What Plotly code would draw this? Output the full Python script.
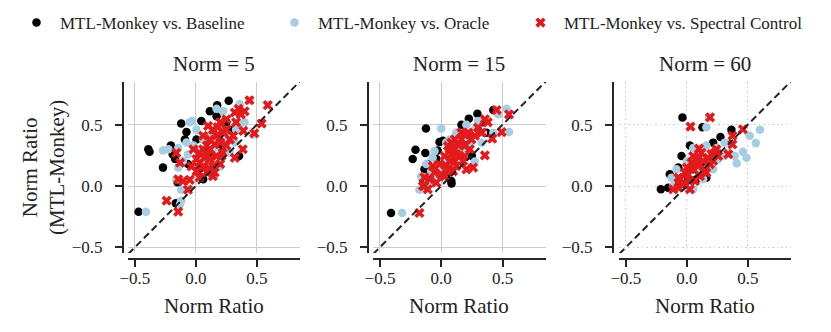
import plotly.graph_objects as go

# ---------------- data ----------------
panel_titles = ["Norm = 5", "Norm = 15", "Norm = 60"]
series_names = ["MTL-Monkey vs. Baseline", "MTL-Monkey vs. Oracle", "MTL-Monkey vs. Spectral Control"]
tick_vals = [-0.5, 0.0, 0.5]
tick_text = ["\u22120.5", "0.0", "0.5"]
x_label = "Norm Ratio"
y_label = "Norm Ratio<br>(MTL-Monkey)"

# Panel 1 (Norm = 5)
p1_base_x = [-0.47, -0.39, -0.38, -0.27, -0.205, -0.12, -0.077, -0.17, -0.19, -0.165, -0.15, -0.065, 0.045, 0.115, 0.175, 0.27, 0.17, 0.28, 0.25, 0.355, 0.03, 0.2, 0.09, 0.32, 0.005, 0.14, 0.22, -0.09, 0.06]
p1_base_y = [-0.21, 0.30, 0.28, 0.15, 0.33, 0.51, 0.44, 0.22, 0.26, -0.14, 0.03, 0.18, 0.53, 0.61, 0.66, 0.695, 0.57, 0.46, 0.52, 0.245, 0.14, 0.41, 0.30, 0.45, 0.38, 0.245, 0.33, 0.38, 0.055]
p1_orac_x = [-0.41, -0.27, -0.225, -0.145, -0.05, -0.03, -0.077, -0.065, -0.145, -0.105, -0.16, -0.12, -0.12, -0.13, 0.17, 0.225, 0.36, 0.44, 0.36, 0.32, 0.2, 0.25, 0.06, 0.005, 0.03, 0.09, 0.14, 0.115, -0.02, 0.28, 0.40, 0.2, 0.33, 0.47]
p1_orac_y = [-0.21, 0.29, 0.30, 0.31, 0.52, 0.53, 0.355, 0.26, 0.15, 0.205, 0.055, -0.03, -0.12, -0.15, 0.63, 0.61, 0.67, 0.70, 0.505, 0.355, 0.46, 0.38, 0.38, 0.46, 0.245, 0.16, 0.30, 0.41, 0.33, 0.27, 0.52, 0.16, 0.46, 0.42]
p1_spec_x = [0.44, 0.59, 0.54, 0.48, 0.39, 0.385, 0.32, -0.24, -0.145, -0.145, -0.105, -0.05, -0.065, -0.13, -0.16, 0.005, 0.03, 0.09, 0.14, 0.155, 0.06, 0.115, 0.17, 0.2, 0.25, 0.32, 0.37, 0.35, 0.2, 0.22, 0.25, 0.28, 0.09, 0.03, 0.06, 0.115, 0.005, -0.02, 0.14, 0.18, 0.10, 0.225, 0.305, 0.115, 0.17, 0.2, 0.09, 0.14, 0.03, 0.115, 0.33, 0.40, 0.25, 0.06, 0.155, 0.21, 0.075, -0.035]
p1_spec_y = [0.70, 0.66, 0.51, 0.43, 0.45, 0.30, 0.23, -0.12, -0.21, 0.055, 0.04, 0.05, -0.03, 0.19, 0.27, 0.12, 0.19, 0.245, 0.08, 0.11, 0.30, 0.38, 0.41, 0.52, 0.545, 0.60, 0.585, 0.63, 0.355, 0.27, 0.33, 0.38, 0.33, 0.27, 0.16, 0.22, 0.22, 0.30, 0.46, 0.48, 0.49, 0.44, 0.41, 0.30, 0.245, 0.18, 0.11, 0.16, 0.07, 0.14, 0.52, 0.61, 0.46, 0.41, 0.34, 0.245, 0.23, 0.16]

# Panel 2 (Norm = 15)
p2_base_x = [-0.41, -0.233, -0.21, -0.13, -0.125, -0.014, -0.03, 0.165, 0.225, 0.295, 0.425, 0.34, 0.37, -0.137, -0.11, 0.082, 0.04, 0.19, 0.11, 0.014, -0.04, 0.25, -0.08, -0.15, 0.30, 0.084]
p2_base_y = [-0.22, 0.22, 0.295, 0.27, 0.47, 0.36, 0.29, 0.50, 0.55, 0.59, 0.62, 0.52, 0.435, 0.136, 0.18, 0.04, 0.07, 0.38, 0.31, 0.37, 0.22, 0.245, 0.055, 0.055, 0.46, 0.02]
p2_orac_x = [-0.32, 0.0, 0.068, 0.11, 0.04, -0.055, -0.07, -0.123, -0.164, -0.178, -0.11, -0.04, 0.022, 0.082, 0.137, 0.205, 0.30, 0.274, 0.34, 0.425, 0.534, 0.553, 0.466, 0.274, 0.233, 0.164, 0.19, 0.096, 0.027, -0.082, 0.014, 0.33, 0.123]
p2_orac_y = [-0.22, 0.47, 0.38, 0.38, 0.355, 0.286, 0.23, 0.18, 0.08, -0.03, 0.03, 0.07, 0.06, 0.136, 0.245, 0.50, 0.53, 0.46, 0.435, 0.435, 0.63, 0.44, 0.585, 0.20, 0.327, 0.30, 0.395, 0.245, 0.22, 0.12, 0.15, 0.354, 0.436]
p2_spec_x = [-0.178, 0.452, 0.553, 0.493, 0.416, 0.356, 0.38, 0.30, 0.26, 0.19, 0.233, -0.137, -0.15, -0.11, -0.07, -0.04, 0.0, 0.04, 0.068, 0.082, 0.11, 0.137, 0.164, 0.19, 0.22, 0.247, 0.274, 0.15, 0.11, 0.055, 0.096, 0.027, 0.068, 0.123, 0.178, 0.123, -0.014, -0.055, -0.096, -0.137, 0.027, 0.19, 0.33, 0.164, 0.082, 0.055, 0.356, 0.205, 0.11]
p2_spec_y = [-0.22, 0.62, 0.585, 0.44, 0.387, 0.25, 0.52, 0.477, 0.15, 0.245, 0.30, 0.07, 0.0, -0.027, 0.163, 0.027, 0.095, 0.163, 0.204, 0.26, 0.30, 0.34, 0.38, 0.42, 0.436, 0.38, 0.41, 0.245, 0.204, 0.136, 0.12, 0.245, 0.30, 0.26, 0.204, 0.163, 0.177, 0.11, 0.055, 0.0, 0.08, 0.327, 0.436, 0.436, 0.354, 0.327, 0.545, 0.136, 0.38]

# Panel 3 (Norm = 60)
p3_base_x = [-0.213, -0.036, 0.128, 0.366, 0.276, -0.044, 0.025, -0.14, -0.07, 0.16, 0.243, 0.216, -0.153, -0.098, 0.052, 0.12, 0.08, 0.0]
p3_base_y = [-0.027, 0.56, 0.48, 0.46, 0.40, 0.245, 0.33, 0.095, 0.15, 0.068, 0.286, 0.354, -0.014, 0.0, 0.136, 0.19, 0.055, 0.08]
p3_orac_x = [0.183, 0.16, 0.60, 0.516, 0.566, 0.46, 0.49, 0.41, 0.393, 0.16, 0.052, 0.0, -0.085, -0.126, -0.112, 0.0, 0.134, 0.216, 0.257, 0.31, 0.34, 0.08, 0.19, 0.107, -0.057, 0.243, 0.052, 0.31]
p3_orac_y = [0.56, 0.48, 0.46, 0.41, 0.35, 0.28, 0.23, 0.185, 0.245, 0.33, 0.31, 0.204, 0.136, 0.068, 0.0, -0.014, 0.055, 0.136, 0.218, 0.245, 0.27, 0.136, 0.163, 0.245, 0.055, 0.31, -0.027, 0.354]
p3_spec_x = [0.19, 0.03, 0.10, 0.46, 0.374, 0.374, 0.34, 0.243, -0.112, -0.07, -0.03, -0.057, 0.01, 0.052, 0.093, 0.134, 0.175, 0.202, 0.23, 0.257, 0.107, 0.066, 0.025, 0.038, 0.08, 0.0, 0.052, 0.148, 0.19, -0.016, -0.044, 0.12, 0.093, 0.216, 0.16, 0.025, -0.07]
p3_spec_y = [0.56, 0.485, 0.305, 0.463, 0.41, 0.34, 0.26, 0.30, -0.027, -0.014, 0.014, 0.055, 0.095, 0.136, 0.163, 0.204, 0.23, 0.26, 0.27, 0.245, 0.08, 0.04, 0.04, 0.19, 0.218, 0.15, 0.245, 0.136, 0.177, 0.109, 0.014, 0.27, 0.23, 0.204, 0.109, -0.027, 0.068]

panels = [
    [(p1_base_x, p1_base_y), (p1_orac_x, p1_orac_y), (p1_spec_x, p1_spec_y)],
    [(p2_base_x, p2_base_y), (p2_orac_x, p2_orac_y), (p2_spec_x, p2_spec_y)],
    [(p3_base_x, p3_base_y), (p3_orac_x, p3_orac_y), (p3_spec_x, p3_spec_y)],
]
diag = [-1.0, 1.0]

# ---------------- styling ----------------
W, H = 831, 332
OFF = 8  # the page body margin shifts the figure by this many pixels
FONT = "Liberation Serif"
TXT = "#222222"
SPINE = "#262626"
colors = ["#000000", "#a6cee3", "#e31a1c"]
symbols = ["circle", "circle", "x"]
sizes = [8.5, 8.5, 9]

# pixel geometry (page coordinates)
plot_left = [128, 373, 619]
plot_right = [300, 546, 791]
plot_top, plot_bottom = 82, 253
spine_x = [123, 368, 613]
spine_y = 259
x_range = [-0.557, 0.855]
y_range = [-0.547, 0.849]

def px(x):
    return (x - OFF) / W

def py(y):
    return 1 - (y - OFF) / H

fig = go.Figure()
legend_ids = ["legend", "legend2", "legend3"]

for p, series in enumerate(panels):
    xa = "x" if p == 0 else f"x{p+1}"
    ya = "y" if p == 0 else f"y{p+1}"
    for s, (xs, ys) in enumerate(series):
        fig.add_trace(go.Scatter(
            x=xs, y=ys, mode="markers", xaxis=xa, yaxis=ya,
            name=series_names[s], showlegend=(p == 0), legend=legend_ids[s],
            marker=dict(color=colors[s], symbol=symbols[s], size=sizes[s], line=dict(width=0)),
        ))
    fig.add_trace(go.Scatter(
        x=diag, y=diag, mode="lines", xaxis=xa, yaxis=ya, showlegend=False,
        line=dict(color="#222222", width=2, dash="7px,4px"),
    ))

layout = dict(
    width=W, height=H,
    margin=dict(l=0, r=0, t=0, b=0, autoexpand=False),
    paper_bgcolor="white", plot_bgcolor="white",
    font=dict(family=FONT, size=17, color=TXT),
    showlegend=True,
)

for p in range(3):
    grid_dash = "1.5px,3px" if p == 2 else "solid"
    xkey = "xaxis" if p == 0 else f"xaxis{p+1}"
    ykey = "yaxis" if p == 0 else f"yaxis{p+1}"
    common = dict(
        tickvals=tick_vals, ticktext=tick_text, showgrid=True, gridcolor="#cccccc",
        gridwidth=1.3, griddash=grid_dash, zeroline=False, showline=True,
        linecolor=SPINE, linewidth=2, ticks="outside", ticklen=7, tickwidth=2,
        tickcolor=SPINE, tickfont=dict(family=FONT, size=17, color=TXT),
        anchor="free", fixedrange=True,
    )
    layout[xkey] = dict(common, domain=[px(plot_left[p]), px(plot_right[p])],
                        range=x_range, position=py(spine_y), ticklabelstandoff=-3)
    layout[ykey] = dict(common, domain=[py(plot_bottom), py(plot_top)],
                        range=y_range, position=px(spine_x[p]), ticklabelstandoff=9)

# legends (one per series, placed like the reference)
leg_x = [13, 271, 517]
for i, lid in enumerate(legend_ids):
    layout[lid] = dict(
        x=px(leg_x[i]), y=py(23), xanchor="left", yanchor="middle",
        orientation="h", bgcolor="rgba(0,0,0,0)", borderwidth=0, itemwidth=37,
        font=dict(family=FONT, size=17, color=TXT),
    )

fig.update_layout(**layout)

annotations = []
for p in range(3):
    cx = (plot_left[p] + plot_right[p]) / 2
    annotations.append(dict(text=panel_titles[p], x=px(cx), y=py(64), xref="paper", yref="paper",
                            showarrow=False, xanchor="center", yanchor="middle",
                            font=dict(family=FONT, size=21, color=TXT)))
    annotations.append(dict(text=x_label, x=px(cx), y=py(306), xref="paper", yref="paper",
                            showarrow=False, xanchor="center", yanchor="middle",
                            font=dict(family=FONT, size=21, color=TXT)))
annotations.append(dict(text=y_label, x=px(43), y=py(168), xref="paper", yref="paper",
                        showarrow=False, xanchor="center", yanchor="middle", textangle=-90,
                        font=dict(family=FONT, size=21, color=TXT)))
fig.update_layout(annotations=annotations)

fig.write_html("out.html")
